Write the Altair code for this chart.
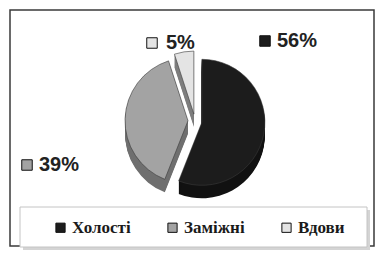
import altair as alt
import pandas as pd

categories = ["Холості", "Заміжні", "Вдови"]
shares = [56, 39, 5]

top_colors = ["#1c1c1c", "#a3a3a3", "#e4e4e4"]
side_colors = ["#111111", "#6f6f6f", "#7d7d7d"]

df = pd.DataFrame({"cat": categories, "value": shares, "idx": list(range(len(categories)))})

CX, CY, R, EXPL, DEPTH = 185, 111, 63, 7, 13

# label anchors (annotation layout): symbol centre and text start
label_layout = {
    "Холості": (255, 31, 267, 31),
    "Заміжні": (17, 155, 29, 155),
    "Вдови": (142, 33, 156, 33),
}


def geo(chart):
    return (
        chart.transform_joinaggregate(total="sum(value)")
        .transform_window(cum="sum(value)", sort=[alt.SortField("idx")], frame=[None, 0])
        .transform_calculate(start="(datum.cum - datum.value) / datum.total * 2 * PI")
        .transform_calculate(end="datum.cum / datum.total * 2 * PI")
        .transform_calculate(mid="(datum.start + datum.end) / 2")
        .transform_calculate(px=f"{CX} + {EXPL} * sin(datum.mid)")
        .transform_calculate(py=f"{CY} - {EXPL} * cos(datum.mid)")
    )


side = (
    geo(alt.Chart(df))
    .transform_calculate(depth=f"sequence(1, {DEPTH + 1})")
    .transform_flatten(["depth"])
    .transform_calculate(sy="datum.py + datum.depth")
    .mark_arc(outerRadius=R)
    .encode(
        theta=alt.Theta("start:Q", scale=None),
        theta2="end:Q",
        x=alt.X("px:Q", scale=None, axis=None),
        y=alt.Y("sy:Q", scale=None, axis=None),
        color=alt.Color("cat:N", scale=alt.Scale(domain=categories, range=side_colors), legend=None),
    )
)

top = (
    geo(alt.Chart(df))
    .mark_arc(outerRadius=R, stroke="#3a3a3a", strokeWidth=0.6)
    .encode(
        theta=alt.Theta("start:Q", scale=None),
        theta2="end:Q",
        x=alt.X("px:Q", scale=None, axis=None),
        y=alt.Y("py:Q", scale=None, axis=None),
        color=alt.Color(
            "cat:N",
            scale=alt.Scale(domain=categories, range=top_colors),
            legend=alt.Legend(
                orient="none", legendX=42, legendY=209, direction="horizontal", title=None,
                symbolType="square", symbolSize=85, symbolStrokeColor="#111", symbolStrokeWidth=1,
                labelFont="Liberation Serif", labelFontWeight="bold", labelFontSize=17,
                labelColor="#1a1a1a", columnPadding=33, labelOffset=3, padding=0, labelLimit=200,
            ),
        ),
    )
)

dummy = alt.Data(values=[{"a": 1}])
shadow = alt.Chart(dummy).mark_rect(fill="#d4d4d4").encode(
    x=alt.value(13), x2=alt.value(360), y=alt.value(200), y2=alt.value(240))
box = alt.Chart(dummy).mark_rect(fill="white", stroke="#c4c4c4", strokeWidth=1).encode(
    x=alt.value(10), x2=alt.value(357), y=alt.value(197), y2=alt.value(237))

lab = alt.Chart(df).transform_joinaggregate(total="sum(value)").transform_calculate(
    label="format(datum.value / datum.total, '.0%')")

labels = []
for cat in categories:
    sx, sy, tx, ty = label_layout[cat]
    f = lab.transform_filter(alt.datum.cat == cat)
    labels.append(
        f.mark_point(shape="square", filled=True, size=110, stroke="#111", strokeWidth=1, opacity=1).encode(
            x=alt.value(sx), y=alt.value(sy),
            color=alt.Color("cat:N", scale=alt.Scale(domain=categories, range=top_colors), legend=None),
        )
    )
    labels.append(
        f.mark_text(align="left", baseline="middle", font="Liberation Sans", fontWeight="bold",
                    fontSize=20, color="#222").encode(
            x=alt.value(tx), y=alt.value(ty), text="label:N")
    )

chart = (
    alt.layer(shadow, box, side, top, *labels)
    .resolve_scale(color="independent")
    .properties(width=364, height=236, padding=2)
    .configure_view(stroke="#3a3a3a", strokeWidth=1.5)
)

chart.save("out.html", embed_options={"renderer": "svg", "actions": False})
